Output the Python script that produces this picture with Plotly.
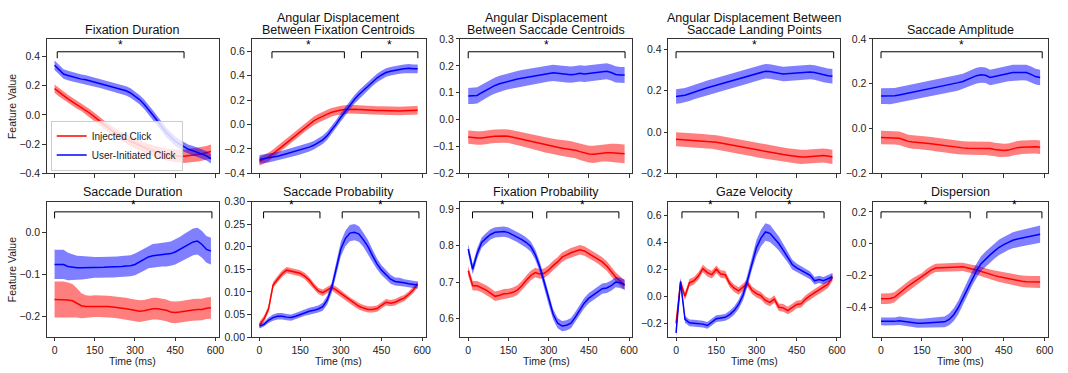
import plotly.graph_objects as go

# ---------------- data ----------------
time_ms = [0, 16.7, 33.3, 50, 66.7, 83.3, 100, 116.7, 133.3, 150, 166.7, 183.3,
           200, 216.7, 233.3, 250, 266.7, 283.3, 300, 316.7, 333.3, 350, 366.7, 383.3,
           400, 416.7, 433.3, 450, 466.7, 483.3, 500, 516.7, 533.3, 550, 566.7, 583.3]

titles = ["Fixation Duration",
          "Angular Displacement<br>Between Fixation Centroids",
          "Angular Displacement<br>Between Saccade Centroids",
          "Angular Displacement Between<br>Saccade Landing Points",
          "Saccade Amplitude",
          "Saccade Duration", "Saccade Probability", "Fixation Probability",
          "Gaze Velocity", "Dispersion"]

series_names = ["Injected Click", "User-Initiated Click"]

# 1 Fixation Duration
fixdur_inj = [0.18, 0.155, 0.13, 0.11, 0.09, 0.07, 0.055, 0.035, 0.01, -0.015, -0.04, -0.065,
              -0.09, -0.11, -0.13, -0.15, -0.165, -0.18, -0.195, -0.21, -0.225, -0.235, -0.245, -0.255,
              -0.265, -0.27, -0.275, -0.28, -0.282, -0.283, -0.28, -0.275, -0.27, -0.265, -0.26, -0.25]
fixdur_usr = [0.34, 0.31, 0.28, 0.27, 0.26, 0.25, 0.245, 0.24, 0.232, 0.225, 0.218, 0.21,
              0.2, 0.19, 0.182, 0.175, 0.165, 0.15, 0.13, 0.105, 0.075, 0.04, 0.0, -0.04,
              -0.08, -0.12, -0.15, -0.18, -0.2, -0.22, -0.235, -0.245, -0.255, -0.265, -0.28, -0.3]
fixdur_inj_err = [0.028, 0.028, 0.028, 0.028, 0.028, 0.028, 0.028, 0.028, 0.028, 0.028, 0.028, 0.028,
                  0.029, 0.03, 0.03, 0.031, 0.032, 0.033, 0.034, 0.035, 0.036, 0.037, 0.038, 0.039,
                  0.04, 0.041, 0.042, 0.043, 0.044, 0.045, 0.046, 0.047, 0.048, 0.048, 0.048, 0.048]
fixdur_usr_err = [0.032] * 36

# 2 Angular displacement between fixation centroids
adfix_inj = [-0.3, -0.285, -0.265, -0.24, -0.21, -0.18, -0.15, -0.115, -0.085, -0.055, -0.025, 0.005,
             0.03, 0.05, 0.07, 0.085, 0.1, 0.11, 0.118, 0.122, 0.125, 0.125, 0.123, 0.12,
             0.118, 0.116, 0.115, 0.115, 0.113, 0.112, 0.11, 0.11, 0.112, 0.115, 0.117, 0.117]
adfix_usr = [-0.285, -0.28, -0.275, -0.27, -0.26, -0.25, -0.24, -0.23, -0.22, -0.21, -0.2, -0.185,
             -0.17, -0.15, -0.125, -0.09, -0.045, 0.005, 0.06, 0.11, 0.16, 0.205, 0.245, 0.28,
             0.315, 0.35, 0.38, 0.405, 0.425, 0.435, 0.445, 0.45, 0.455, 0.46, 0.455, 0.455]
adfix_inj_err = [0.035] * 36
adfix_usr_err = [0.035] * 36

# 3 Angular displacement between saccade centroids
adsac_inj = [-0.065, -0.067, -0.068, -0.068, -0.067, -0.064, -0.062, -0.061, -0.061, -0.062, -0.065, -0.069,
             -0.073, -0.077, -0.081, -0.085, -0.089, -0.093, -0.097, -0.1, -0.103, -0.106, -0.108, -0.11,
             -0.114, -0.119, -0.124, -0.128, -0.129, -0.127, -0.124, -0.123, -0.123, -0.124, -0.126, -0.127]
adsac_usr = [0.088, 0.088, 0.09, 0.1, 0.11, 0.12, 0.127, 0.133, 0.138, 0.143, 0.147, 0.151,
             0.154, 0.157, 0.16, 0.163, 0.166, 0.169, 0.172, 0.174, 0.172, 0.17, 0.168, 0.167,
             0.169, 0.172, 0.17, 0.172, 0.175, 0.176, 0.178, 0.18, 0.175, 0.168, 0.166, 0.166]
adsac_inj_err = [0.025, 0.025, 0.025, 0.025, 0.025, 0.025, 0.025, 0.025, 0.025, 0.025, 0.026, 0.026,
                 0.026, 0.027, 0.027, 0.027, 0.028, 0.028, 0.028, 0.029, 0.029, 0.029, 0.03, 0.03,
                 0.03, 0.031, 0.031, 0.031, 0.032, 0.032, 0.032, 0.033, 0.033, 0.034, 0.034, 0.035]
adsac_usr_err = [0.03] * 36

# 4 Angular displacement between saccade landing points
adland_inj = [-0.035, -0.036, -0.037, -0.038, -0.04, -0.042, -0.044, -0.046, -0.047, -0.049, -0.053, -0.057,
              -0.062, -0.066, -0.07, -0.075, -0.079, -0.083, -0.088, -0.092, -0.096, -0.1, -0.103, -0.106,
              -0.109, -0.112, -0.115, -0.118, -0.12, -0.12, -0.118, -0.116, -0.114, -0.113, -0.116, -0.12]
adland_usr = [0.172, 0.174, 0.178, 0.185, 0.193, 0.2, 0.207, 0.214, 0.22, 0.226, 0.232, 0.238,
              0.244, 0.25, 0.256, 0.262, 0.268, 0.274, 0.28, 0.287, 0.294, 0.293, 0.29, 0.284,
              0.28, 0.282, 0.285, 0.287, 0.288, 0.289, 0.29, 0.288, 0.282, 0.275, 0.272, 0.27]
adland_inj_err = [0.034] * 36
adland_usr_err = [0.035] * 36

# 5 Saccade amplitude
sacamp_inj = [-0.04, -0.04, -0.04, -0.041, -0.043, -0.05, -0.057, -0.06, -0.061, -0.062, -0.065, -0.068,
              -0.071, -0.074, -0.077, -0.08, -0.082, -0.084, -0.086, -0.088, -0.088, -0.088, -0.088, -0.088,
              -0.089, -0.093, -0.097, -0.098, -0.096, -0.09, -0.085, -0.083, -0.082, -0.08, -0.081, -0.083]
sacamp_usr = [0.145, 0.145, 0.144, 0.146, 0.15, 0.154, 0.158, 0.162, 0.166, 0.17, 0.175, 0.18,
              0.184, 0.188, 0.192, 0.196, 0.2, 0.205, 0.21, 0.218, 0.228, 0.236, 0.24, 0.238,
              0.228, 0.232, 0.238, 0.242, 0.246, 0.25, 0.25, 0.251, 0.25, 0.242, 0.232, 0.228]
sacamp_inj_err = [0.03] * 36
sacamp_usr_err = [0.035] * 36

# 6 Saccade duration
sacdur_inj = [-0.16, -0.16, -0.16, -0.161, -0.163, -0.168, -0.175, -0.177, -0.177, -0.176, -0.176, -0.176,
              -0.177, -0.178, -0.179, -0.18, -0.182, -0.184, -0.186, -0.188, -0.187, -0.184, -0.182, -0.182,
              -0.184, -0.186, -0.19, -0.191, -0.19, -0.188, -0.186, -0.185, -0.184, -0.184, -0.181, -0.18]
sacdur_usr = [-0.076, -0.076, -0.076, -0.081, -0.083, -0.084, -0.084, -0.084, -0.084, -0.083, -0.083, -0.083,
              -0.082, -0.082, -0.082, -0.081, -0.08, -0.079, -0.076, -0.07, -0.064, -0.058, -0.055, -0.054,
              -0.053, -0.052, -0.05, -0.046, -0.04, -0.034, -0.028, -0.022, -0.02, -0.028, -0.04, -0.044]
sacdur_inj_err = [0.043, 0.043, 0.043, 0.042, 0.04, 0.035, 0.03, 0.027, 0.026, 0.026, 0.026, 0.026,
                  0.026, 0.026, 0.026, 0.026, 0.026, 0.026, 0.026, 0.026, 0.026, 0.026, 0.026, 0.026,
                  0.026, 0.026, 0.026, 0.026, 0.026, 0.026, 0.026, 0.026, 0.026, 0.026, 0.026, 0.026]
sacdur_usr_err = [0.035, 0.035, 0.035, 0.033, 0.031, 0.029, 0.028, 0.027, 0.026, 0.025, 0.025, 0.025,
                  0.025, 0.025, 0.025, 0.025, 0.025, 0.025, 0.026, 0.026, 0.027, 0.027, 0.028, 0.028,
                  0.028, 0.029, 0.029, 0.03, 0.03, 0.031, 0.031, 0.032, 0.032, 0.032, 0.032, 0.032]

# 7 Saccade probability
sacprob_inj = [0.027, 0.04, 0.062, 0.115, 0.128, 0.14, 0.148, 0.146, 0.144, 0.141, 0.135, 0.126,
               0.113, 0.102, 0.098, 0.104, 0.11, 0.104, 0.097, 0.089, 0.081, 0.074, 0.068, 0.064,
               0.061, 0.061, 0.063, 0.07, 0.077, 0.075, 0.077, 0.082, 0.086, 0.094, 0.104, 0.117]
sacprob_usr = [0.024, 0.028, 0.037, 0.043, 0.046, 0.046, 0.044, 0.043, 0.046, 0.05, 0.054, 0.057,
               0.059, 0.062, 0.067, 0.082, 0.11, 0.15, 0.195, 0.218, 0.23, 0.232, 0.228, 0.215,
               0.2, 0.18, 0.162, 0.148, 0.138, 0.128, 0.123, 0.122, 0.12, 0.118, 0.117, 0.115]
sacprob_inj_err = [0.007] * 36
sacprob_usr_err = [0.005, 0.005, 0.006, 0.007, 0.007, 0.007, 0.007, 0.007, 0.007, 0.007, 0.007, 0.008,
                   0.008, 0.008, 0.009, 0.01, 0.012, 0.014, 0.016, 0.017, 0.018, 0.018, 0.017, 0.016,
                   0.015, 0.014, 0.012, 0.011, 0.01, 0.01, 0.009, 0.009, 0.008, 0.008, 0.008, 0.008]

# 8 Fixation probability
fixprob_inj = [0.731, 0.69, 0.69, 0.685, 0.678, 0.67, 0.661, 0.664, 0.668, 0.669, 0.672, 0.678,
               0.69, 0.705, 0.718, 0.726, 0.722, 0.724, 0.733, 0.745, 0.755, 0.768, 0.775, 0.78,
               0.784, 0.788, 0.785, 0.778, 0.771, 0.764, 0.755, 0.744, 0.728, 0.714, 0.703, 0.691]
fixprob_usr = [0.79, 0.735, 0.778, 0.808, 0.82, 0.83, 0.836, 0.838, 0.838, 0.835, 0.829, 0.823,
               0.816, 0.808, 0.797, 0.775, 0.742, 0.7, 0.652, 0.612, 0.588, 0.58, 0.582, 0.588,
               0.605, 0.625, 0.643, 0.656, 0.665, 0.674, 0.682, 0.684, 0.69, 0.7, 0.698, 0.693]
fixprob_inj_err = [0.013] * 36
fixprob_usr_err = [0.014] * 36

# 9 Gaze velocity
gazevel_inj = [-0.2, 0.1, 0.0, 0.1, 0.115, 0.15, 0.205, 0.175, 0.16, 0.2, 0.165, 0.16,
               0.095, 0.06, 0.04, 0.065, 0.095, 0.045, 0.02, 0.005, -0.03, -0.045, -0.02, -0.08,
               -0.085, -0.105, -0.085, -0.06, -0.055, -0.02, 0.005, 0.025, 0.045, 0.065, 0.09, 0.14]
gazevel_usr = [-0.27, 0.11, -0.17, -0.195, -0.198, -0.2, -0.205, -0.215, -0.19, -0.165, -0.16, -0.155,
               -0.135, -0.105, -0.06, 0.01, 0.12, 0.25, 0.36, 0.43, 0.475, 0.465, 0.43, 0.39,
               0.34, 0.29, 0.235, 0.21, 0.19, 0.175, 0.155, 0.115, 0.125, 0.115, 0.13, 0.145]
gazevel_inj_err = [0.028] * 36
gazevel_usr_err = [0.03, 0.03, 0.025, 0.025, 0.025, 0.025, 0.025, 0.025, 0.025, 0.025, 0.025, 0.025,
                   0.028, 0.03, 0.033, 0.038, 0.045, 0.052, 0.058, 0.062, 0.065, 0.063, 0.058, 0.052,
                   0.046, 0.04, 0.036, 0.033, 0.031, 0.03, 0.028, 0.027, 0.027, 0.027, 0.027, 0.027]

# 10 Dispersion
disp_inj = [-0.345, -0.345, -0.344, -0.335, -0.31, -0.29, -0.265, -0.245, -0.225, -0.21, -0.185, -0.165,
            -0.152, -0.15, -0.149, -0.149, -0.148, -0.146, -0.145, -0.15, -0.158, -0.165, -0.175, -0.185,
            -0.193, -0.2, -0.207, -0.213, -0.22, -0.226, -0.23, -0.235, -0.238, -0.24, -0.24, -0.24]
disp_usr = [-0.487, -0.488, -0.489, -0.487, -0.483, -0.487, -0.492, -0.496, -0.499, -0.499, -0.497, -0.494,
            -0.493, -0.493, -0.49, -0.475, -0.445, -0.4, -0.34, -0.28, -0.22, -0.17, -0.125, -0.095,
            -0.07, -0.045, -0.022, -0.005, 0.01, 0.022, 0.03, 0.036, 0.042, 0.048, 0.054, 0.06]
disp_inj_err = [0.033, 0.033, 0.033, 0.032, 0.031, 0.03, 0.03, 0.03, 0.028, 0.027, 0.027, 0.026,
                0.026, 0.026, 0.026, 0.026, 0.026, 0.026, 0.026, 0.027, 0.027, 0.028, 0.029, 0.03,
                0.031, 0.032, 0.033, 0.034, 0.035, 0.035, 0.036, 0.036, 0.036, 0.037, 0.037, 0.037]
disp_usr_err = [0.025, 0.025, 0.025, 0.025, 0.026, 0.026, 0.027, 0.027, 0.028, 0.028, 0.029, 0.03,
                0.03, 0.032, 0.034, 0.037, 0.04, 0.042, 0.044, 0.045, 0.045, 0.045, 0.046, 0.046,
                0.047, 0.047, 0.048, 0.048, 0.049, 0.05, 0.05, 0.051, 0.052, 0.052, 0.053, 0.054]

# significance windows (ms) per panel
sig_windows = [
    [(10, 483)],
    [(46, 313), (376, 584)],
    [(0, 585)],
    [(0, 588)],
    [(0, 591)],
    [(0, 587)],
    [(15, 223), (305, 588)],
    [(16, 240), (293, 562)],
    [(22, 232), (298, 552)],
    [(0, 327), (388, 590)],
]

y_ranges = [[-0.4, 0.52], [-0.4, 0.70], [-0.2, 0.3], [-0.2, 0.45], [-0.2, 0.4],
            [-0.25, 0.075], [0.0, 0.30], [0.55, 0.92], [-0.3, 0.70], [-0.585, 0.265]]
y_ticks = [[-0.4, -0.2, 0.0, 0.2, 0.4], [-0.4, -0.2, 0.0, 0.2, 0.4, 0.6],
           [-0.2, -0.1, 0.0, 0.1, 0.2, 0.3], [-0.2, 0.0, 0.2, 0.4], [-0.2, 0.0, 0.2, 0.4],
           [-0.2, -0.1, 0.0], [0.0, 0.05, 0.1, 0.15, 0.2, 0.25, 0.3], [0.6, 0.7, 0.8, 0.9],
           [-0.2, 0.0, 0.2, 0.4, 0.6], [-0.4, -0.2, 0.0, 0.2]]
y_formats = [".1f", ".1f", ".1f", ".1f", ".1f", ".1f", ".2f", ".1f", ".1f", ".1f"]
x_ticks = [0, 150, 300, 450, 600]

panels = [
    (fixdur_inj, fixdur_inj_err, fixdur_usr, fixdur_usr_err),
    (adfix_inj, adfix_inj_err, adfix_usr, adfix_usr_err),
    (adsac_inj, adsac_inj_err, adsac_usr, adsac_usr_err),
    (adland_inj, adland_inj_err, adland_usr, adland_usr_err),
    (sacamp_inj, sacamp_inj_err, sacamp_usr, sacamp_usr_err),
    (sacdur_inj, sacdur_inj_err, sacdur_usr, sacdur_usr_err),
    (sacprob_inj, sacprob_inj_err, sacprob_usr, sacprob_usr_err),
    (fixprob_inj, fixprob_inj_err, fixprob_usr, fixprob_usr_err),
    (gazevel_inj, gazevel_inj_err, gazevel_usr, gazevel_usr_err),
    (disp_inj, disp_inj_err, disp_usr, disp_usr_err),
]

# ---------------- layout geometry (pixels) ----------------
W, H = 1068, 373
col_px = [(47, 220), (253, 428), (463, 636), (672, 845), (878, 1054)]
row_px = [(34, 173), (202, 342)]

FONT = "Liberation Sans, Arial, Helvetica, sans-serif"
AXC = "#333333"
RED_LINE, RED_FILL = "rgb(255,0,0)", "rgba(255,0,0,0.5)"
BLUE_LINE, BLUE_FILL = "rgb(0,0,255)", "rgba(0,0,255,0.5)"

fig = go.Figure()
layout = dict(
    width=W, height=H, margin=dict(l=0, r=0, t=0, b=0),
    paper_bgcolor="white", plot_bgcolor="white",
    font=dict(family=FONT, size=10.5, color="#222"),
    showlegend=True,
)
annotations = []
shapes = []

for k in range(10):
    r, c = divmod(k, 5)
    idx = "" if k == 0 else str(k + 1)
    xa, ya = "x" + idx, "y" + idx
    x0p, x1p = col_px[c]
    y0p, y1p = row_px[r]
    layout["xaxis" + idx] = dict(
        domain=[x0p / W, x1p / W], anchor=ya, range=[-29.2, 612.5],
        tickvals=x_ticks, showticklabels=(r == 1),
        showline=True, mirror=True, linecolor=AXC, linewidth=1,
        ticks="outside", ticklen=3.5, tickwidth=1, tickcolor=AXC,
        showgrid=False, zeroline=False, tickfont=dict(size=10.5, color="#222"),
    )
    layout["yaxis" + idx] = dict(
        domain=[1 - y1p / H, 1 - y0p / H], anchor=xa, range=y_ranges[k],
        tickvals=y_ticks[k], tickformat=y_formats[k],
        showline=True, mirror=True, linecolor=AXC, linewidth=1,
        ticks="outside", ticklen=3.5, tickwidth=1, tickcolor=AXC,
        showgrid=False, zeroline=False, tickfont=dict(size=10.5, color="#222"),
    )
    inj, inj_e, usr, usr_e = panels[k]
    for name, mean, err, lc, fc in [(series_names[0], inj, inj_e, RED_LINE, RED_FILL),
                                    (series_names[1], usr, usr_e, BLUE_LINE, BLUE_FILL)]:
        upper = [m + e for m, e in zip(mean, err)]
        lower = [m - e for m, e in zip(mean, err)]
        fig.add_trace(go.Scatter(
            x=time_ms + time_ms[::-1], y=upper + lower[::-1], xaxis=xa, yaxis=ya,
            fill="toself", fillcolor=fc, line=dict(width=0), mode="lines",
            hoverinfo="skip", showlegend=False))
        fig.add_trace(go.Scatter(
            x=time_ms, y=mean, xaxis=xa, yaxis=ya, mode="lines",
            line=dict(color=lc, width=1.5), name=name, showlegend=(k == 0)))

    # significance brackets
    top_frac = 1 - (13.3 if r == 0 else 10.7) / (y1p - y0p)
    drop_frac = top_frac - 6.7 / (y1p - y0p)
    star_frac = 1 - (6.5 if r == 0 else 4.0) / (y1p - y0p)
    for (s0, s1) in sig_windows[k]:
        for (ax0, ay0, ax1, ay1) in [(s0, top_frac, s1, top_frac),
                                     (s0, drop_frac, s0, top_frac),
                                     (s1, drop_frac, s1, top_frac)]:
            shapes.append(dict(type="line", xref=xa, yref=ya + " domain",
                               x0=ax0, y0=ay0, x1=ax1, y1=ay1,
                               line=dict(color="black", width=1)))
        annotations.append(dict(text="*", x=(s0 + s1) / 2, y=star_frac,
                                xref=xa, yref=ya + " domain", showarrow=False,
                                yanchor="middle", font=dict(size=12, color="black")))

    # titles
    cx = (x0p + x1p) / 2 / W
    lines = titles[k].split("<br>")
    if r == 0:
        centers = [25] if len(lines) == 1 else [12, 25]
    else:
        centers = [192]
    for txt, cy in zip(lines, centers):
        annotations.append(dict(text=txt, x=cx, y=1 - cy / H, xref="paper", yref="paper",
                                showarrow=False, xanchor="center", yanchor="middle",
                                font=dict(size=12.5, color="#111")))
    if r == 1:
        annotations.append(dict(text="Time (ms)", x=cx, y=0, xref="paper",
                                yref="paper", showarrow=False, xanchor="center",
                                yanchor="bottom", yshift=-1, borderpad=0,
                                font=dict(size=10.5, color="#222")))
    if c == 0:
        annotations.append(dict(text="Feature Value", x=12 / W, y=1 - (y0p + y1p) / 2 / H,
                                xref="paper", yref="paper", showarrow=False, textangle=-90,
                                xanchor="center", yanchor="middle",
                                font=dict(size=10.5, color="#222")))

layout["annotations"] = annotations
layout["shapes"] = shapes
layout["legend"] = dict(x=51 / W, y=1 - 170 / H, xanchor="left", yanchor="bottom",
                        bgcolor="rgba(255,255,255,0.8)", bordercolor="#cccccc", borderwidth=1,
                        font=dict(size=10, color="#222"), itemwidth=30, tracegroupgap=0)
fig.update_layout(**layout)
fig.write_html("out.html", config={"displayModeBar": False},
               post_script="document.body.style.margin='0px';document.body.style.overflow='hidden';")
